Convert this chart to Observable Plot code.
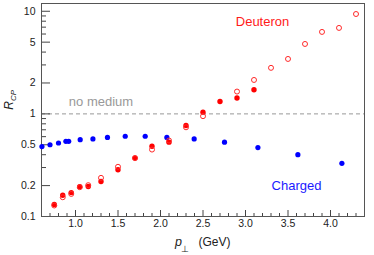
<!DOCTYPE html>
<html>
<head>
<meta charset="utf-8">
<script src="https://cdn.jsdelivr.net/npm/d3@7"></script>
<script src="https://cdn.jsdelivr.net/npm/@observablehq/plot@0.6"></script>
<style>
  html, body { margin: 0; padding: 0; background: #fff; }
  svg { display: block; }
</style>
</head>
<body>
<div id="chart"></div>
<script>
// Charged hadrons (blue filled)
const chargedPt = [0.605, 0.70, 0.80, 0.887, 0.92, 1.055, 1.205, 1.376, 1.585, 1.82, 2.075, 2.396, 2.753, 3.146, 3.616, 4.134];
const chargedRcp = [0.48, 0.50, 0.52, 0.54, 0.54, 0.56, 0.57, 0.59, 0.605, 0.605, 0.59, 0.57, 0.53, 0.47, 0.40, 0.33];

// Deuteron filled (red)
const deutFilledPt = [0.75, 0.85, 0.95, 1.05, 1.15, 1.30, 1.50, 1.70, 1.90, 2.10, 2.30, 2.50, 2.70, 2.90, 3.10];
const deutFilledRcp = [0.131, 0.161, 0.171, 0.195, 0.196, 0.219, 0.285, 0.373, 0.484, 0.53, 0.77, 1.04, 1.32, 1.43, 1.72];

// Deuteron open (red rings)
const deutOpenPt = [0.75, 0.85, 0.95, 1.05, 1.15, 1.30, 1.50, 1.70, 1.90, 2.10, 2.30, 2.50, 2.90, 3.10, 3.30, 3.50, 3.70, 3.90, 4.10, 4.30];
const deutOpenRcp = [0.128, 0.154, 0.166, 0.193, 0.202, 0.238, 0.305, 0.37, 0.449, 0.55, 0.74, 0.95, 1.65, 2.14, 2.81, 3.43, 4.8, 6.29, 6.88, 9.4];

// Ticks
const yMajorTicks = [0.1, 0.2, 0.5, 1, 2, 5, 10];
const yMinorTicks = [0.3, 0.4, 0.6, 0.7, 0.8, 0.9, 3, 4, 6, 7, 8, 9];
const xMajorTicks = [1.0, 1.5, 2.0, 2.5, 3.0, 3.5, 4.0];
const xMinorTicks = [0.7, 0.8, 0.9, 1.1, 1.2, 1.3, 1.4, 1.6, 1.7, 1.8, 1.9, 2.1, 2.2, 2.3, 2.4, 2.6, 2.7, 2.8, 2.9, 3.1, 3.2, 3.3, 3.4, 3.6, 3.7, 3.8, 3.9, 4.1, 4.2, 4.3];

const charged = chargedPt.map((x, i) => ({x, y: chargedRcp[i]}));
const deutFilled = deutFilledPt.map((x, i) => ({x, y: deutFilledRcp[i]}));
const deutOpen = deutOpenPt.map((x, i) => ({x, y: deutOpenRcp[i]}));

const W = 374, H = 255, ML = 41, MR = 10, MT = 3, MB = 39;
const PW = W - ML - MR, PH = H - MT - MB;

const label = (s, px, py, opts) => Plot.text([s], {
  frameAnchor: "top-left", dx: px - ML, dy: py - MT, text: d => d,
  textAnchor: "middle", lineAnchor: "middle", fill: "#222", ...opts
});

const chart = Plot.plot({
  width: W, height: H,
  marginLeft: ML, marginRight: MR, marginTop: MT, marginBottom: MB,
  style: {fontFamily: "'Liberation Sans', Arial, sans-serif", fontSize: "10.5px", background: "white", color: "#222"},
  x: {domain: [0.6, 4.4], label: null},
  y: {type: "log", domain: [0.1, 11.9], label: null},
  marks: [
    Plot.ruleY([1], {stroke: "#999", strokeWidth: 1, strokeDasharray: "4,3"}),
    Plot.tickY(yMajorTicks, {y: d => d, insetRight: PW - 9, stroke: "#444"}),
    Plot.tickY(yMinorTicks, {y: d => d, insetRight: PW - 5, stroke: "#444"}),
    Plot.tickX(xMajorTicks, {x: d => d, insetTop: PH - 6, stroke: "#444"}),
    Plot.tickX(xMinorTicks, {x: d => d, insetTop: PH - 3, stroke: "#444"}),
    Plot.axisY({ticks: yMajorTicks, tickSize: 0, tickPadding: 6, tickFormat: d => String(d), fill: "#222"}),
    Plot.axisX({ticks: xMajorTicks, tickSize: 0, tickPadding: 3, tickFormat: d3.format(".1f"), fill: "#222"}),
    Plot.frame({stroke: "#555"}),
    Plot.dot(charged, {x: "x", y: "y", r: 2.6, fill: "#0000ff", stroke: "none"}),
    Plot.dot(deutFilled, {x: "x", y: "y", r: 2.7, fill: "#ff0000", stroke: "none"}),
    Plot.dot(deutOpen, {x: "x", y: "y", r: 2.5, fill: "none", stroke: "#ff2a2a", strokeWidth: 1}),
    Plot.text(["Deuteron"], {x: 3.2, y: 7.94, text: d => d, fill: "#ff1a1a", fontSize: 13}),
    Plot.text(["Charged"], {x: 3.6, y: 0.2, text: d => d, fill: "#1a1aff", fontSize: 13}),
    Plot.text(["no medium"], {x: 1.3, y: 1.3, text: d => d, fill: "#999", fontSize: 13}),
    label("R", 9, 105, {rotate: -90, fontSize: 12, fontStyle: "italic"}),
    label("CP", 13, 95, {rotate: -90, fontSize: 8, fontStyle: "italic"}),
    label("p", 178, 241, {fontSize: 12.5, fontStyle: "italic"}),
    label("⊥", 184, 249, {fontSize: 9}),
    label("(GeV)", 214, 242, {fontSize: 12})
  ]
});
document.getElementById("chart").appendChild(chart);
</script>
</body>
</html>
